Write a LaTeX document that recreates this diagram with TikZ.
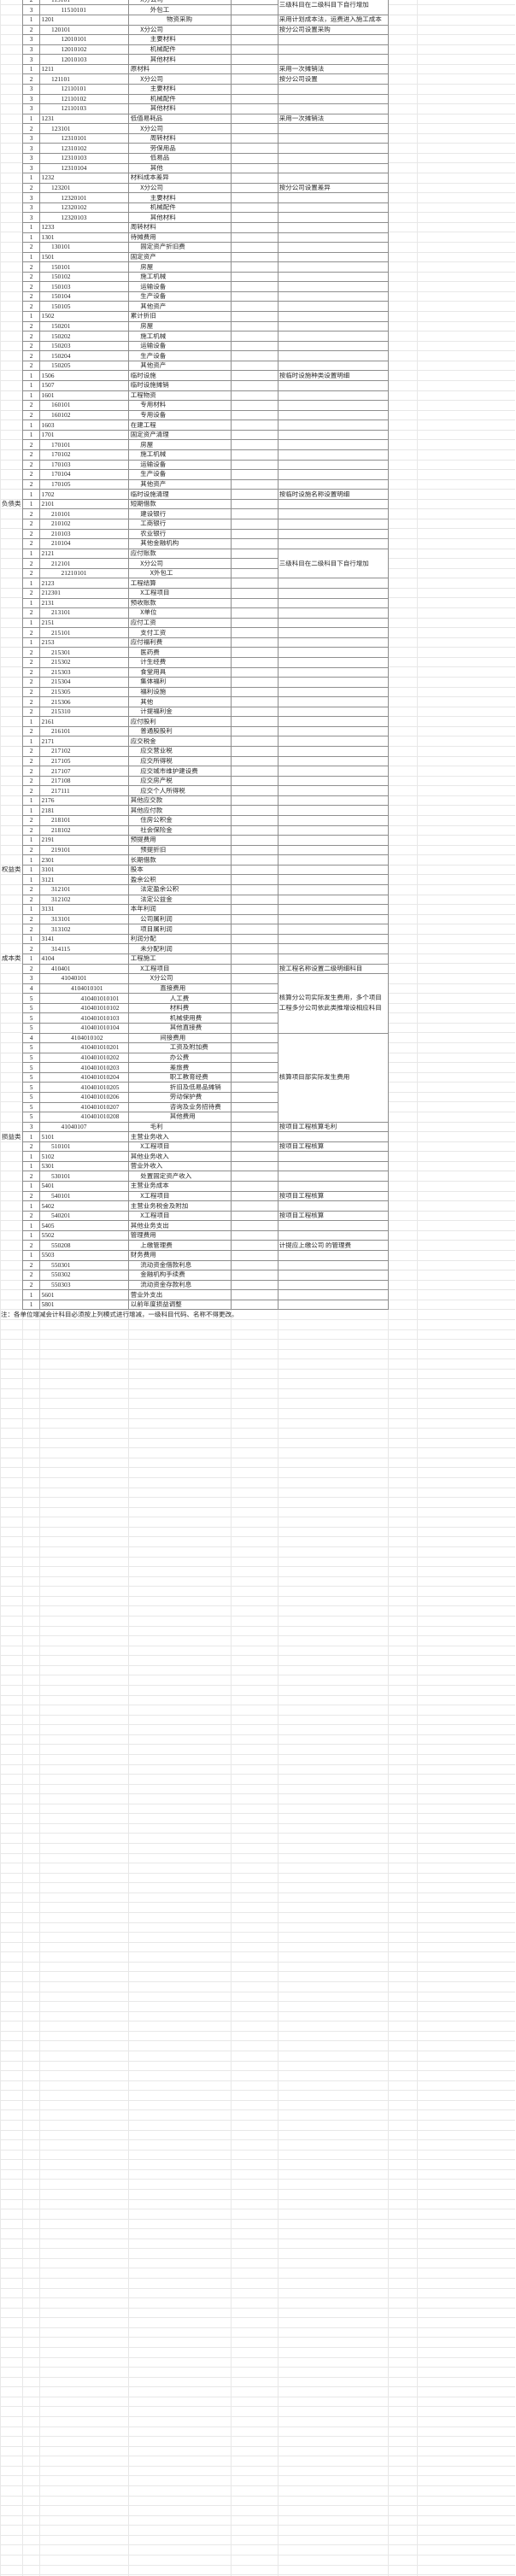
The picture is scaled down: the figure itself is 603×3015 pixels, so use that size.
\documentclass[tikz,border=0pt]{standalone}
\usepackage{fontspec}
\setmainfont{Liberation Serif}
\newfontfamily\cjk{Noto Sans CJK SC}

\definecolor{gridline}{HTML}{E8E8E8}
\definecolor{cellline}{HTML}{8E8E8E}
\definecolor{ink}{HTML}{262626}
\newcommand{\rowh}{11.568}

\begin{document}
\begin{tikzpicture}[
					x = 1pt, y = -1pt,
					every node/.style = {
						inner sep = 0pt,
						text = ink,
						font = \fontsize{7.5}{9}\selectfont,
					},
					numtext/.style = {anchor = base west},
					lvltext/.style = {anchor = base},
					cntext/.style = {anchor = base west, font = \cjk\fontsize{7.5}{9}\selectfont},
					faint/.style = {draw = gridline, line width = 0.8pt},
					cell/.style = {draw = cellline, line width = 0.7pt},
			]
				\useasboundingbox (0, 0) rectangle (603, 3015);
				\clip (0, 0) rectangle (603, 3015);

				% empty sheet grid
				\foreach \k in {0,...,132} {
					\draw[faint] (0, {(\k+0.5)*\rowh}) -- (26.7, {(\k+0.5)*\rowh});
					\draw[faint] (454.3, {(\k+0.5)*\rowh}) -- (603, {(\k+0.5)*\rowh});
				}
				\foreach \k in {133,...,260}
					\draw[faint] (0, {(\k+0.5)*\rowh}) -- (603, {(\k+0.5)*\rowh});
				\foreach \x in {0.5, 26.7, 46.7, 150.7, 270.7, 325, 454.3, 488.3}
					\draw[faint] (\x, 0) -- (\x, 3015);

				% table rules
				\foreach \k in {0,...,132}
					\draw[cell] (26.7, {(\k+0.5)*\rowh}) -- (325, {(\k+0.5)*\rowh});
				\foreach \k in {1,...,55}
					\draw[cell] (325, {(\k+0.5)*\rowh}) -- (454.3, {(\k+0.5)*\rowh});
				\foreach \k in {58,...,98}
					\draw[cell] (325, {(\k+0.5)*\rowh}) -- (454.3, {(\k+0.5)*\rowh});
				\foreach \k in {104,113,114,...,132}
					\draw[cell] (325, {(\k+0.5)*\rowh}) -- (454.3, {(\k+0.5)*\rowh});
				\foreach \x in {26.7, 46.7, 150.7, 270.7, 325, 454.3}
					\draw[cell] (\x, 0) -- (\x, {132.5*\rowh});

				% account rows: row / level / code / name
				\foreach \rw/\lv/\cd/\nm in {
						0/2/115101/X分公司, 1/3/11510101/外包工,
						3/2/120101/X分公司, 4/3/12010101/主要材料, 5/3/12010102/机械配件, 6/3/12010103/其他材料,
						7/1/1211/原材料, 8/2/121101/X分公司, 9/3/12110101/主要材料, 10/3/12110102/机械配件, 11/3/12110103/其他材料,
						12/1/1231/低值易耗品, 13/2/123101/X分公司, 14/3/12310101/周转材料, 15/3/12310102/劳保用品,
						16/3/12310103/低易品, 17/3/12310104/其他,
						18/1/1232/材料成本差异, 19/2/123201/X分公司, 20/3/12320101/主要材料, 21/3/12320102/机械配件, 22/3/12320103/其他材料,
						23/1/1233/周转材料, 24/1/1301/待摊费用, 25/2/130101/固定资产折旧费,
						26/1/1501/固定资产, 27/2/150101/房屋, 28/2/150102/施工机械, 29/2/150103/运输设备, 30/2/150104/生产设备, 31/2/150105/其他资产,
						32/1/1502/累计折旧, 33/2/150201/房屋, 34/2/150202/施工机械, 35/2/150203/运输设备, 36/2/150204/生产设备, 37/2/150205/其他资产,
						38/1/1506/临时设施, 39/1/1507/临时设施摊销, 40/1/1601/工程物资, 41/2/160101/专用材料, 42/2/160102/专用设备,
						43/1/1603/在建工程, 44/1/1701/固定资产清理, 45/2/170101/房屋, 46/2/170102/施工机械, 47/2/170103/运输设备,
						48/2/170104/生产设备, 49/2/170105/其他资产, 50/1/1702/临时设施清理,
						51/1/2101/短期借款, 52/2/210101/建设银行, 53/2/210102/工商银行, 54/2/210103/农业银行, 55/2/210104/其他金融机构,
						56/1/2121/应付账款, 57/2/212101/X分公司, 59/1/2123/工程结算,
						61/1/2131/预收账款, 62/2/213101/X单位, 63/1/2151/应付工资, 64/2/215101/支付工资,
						65/1/2153/应付福利费, 66/2/215301/医药费, 67/2/215302/计生经费, 68/2/215303/食堂用具, 69/2/215304/集体福利,
						70/2/215305/福利设施, 71/2/215306/其他, 72/2/215310/计提福利金, 73/1/2161/应付股利, 74/2/216101/普通股股利,
						75/1/2171/应交税金, 76/2/217102/应交营业税, 77/2/217105/应交所得税, 78/2/217107/应交城市维护建设费,
						79/2/217108/应交房产税, 80/2/217111/应交个人所得税, 81/1/2176/其他应交款, 82/1/2181/其他应付款,
						83/2/218101/住房公积金, 84/2/218102/社会保险金, 85/1/2191/预提费用, 86/2/219101/预提折旧, 87/1/2301/长期借款,
						88/1/3101/股本, 89/1/3121/盈余公积, 90/2/312101/法定盈余公积, 91/2/312102/法定公益金,
						92/1/3131/本年利润, 93/2/313101/公司属利润, 94/2/313102/项目属利润, 95/1/3141/利润分配, 96/2/314115/未分配利润,
						97/1/4104/工程施工, 98/2/410401/X工程项目, 99/3/41040101/X分公司, 100/4/4104010101/直接费用,
						101/5/410401010101/人工费, 102/5/410401010102/材料费, 103/5/410401010103/机械使用费, 104/5/410401010104/其他直接费,
						105/4/4104010102/间接费用, 106/5/410401010201/工资及附加费, 107/5/410401010202/办公费, 108/5/410401010203/差旅费,
						109/5/410401010204/职工教育经费, 110/5/410401010205/折旧及低易品摊销, 111/5/410401010206/劳动保护费,
						112/5/410401010207/咨询及业务招待费, 113/5/410401010208/其他费用, 114/3/41040107/毛利,
						115/1/5101/主营业务收入, 116/2/510101/X工程项目, 117/1/5102/其他业务收入, 118/1/5301/营业外收入,
						119/2/530101/处置固定资产收入, 120/1/5401/主营业务成本, 121/2/540101/X工程项目,
						122/1/5402/主营业务税金及附加, 123/2/540201/X工程项目, 124/1/5405/其他业务支出, 125/1/5502/管理费用,
						126/2/550208/上缴管理费, 127/1/5503/财务费用, 128/2/550301/流动资金借款利息, 129/2/550302/金融机构手续费,
						130/2/550303/流动资金存款利息, 131/1/5601/营业外支出, 132/1/5801/以前年度损益调整} {
					\node[lvltext] (lv\rw) at (36.7, {\rw*\rowh+2.7}) {\lv};
					\node[numtext] (cd\rw) at ({48.3+(\lv-1)*11.5}, {\rw*\rowh+2.7}) {\cd};
					\node[cntext] (nm\rw) at ({152.7+(\lv-1)*11.5}, {\rw*\rowh+2.7}) {\nm};
				}

				% rows set off from the usual indent
				\node[lvltext] (lv2) at (36.7, {2*\rowh+2.7}) {1};
				\node[numtext] (cd2) at (48.3, {2*\rowh+2.7}) {1201};
				\node[cntext] (nm2) at (195, {2*\rowh+2.7}) {物资采购};
				\node[lvltext] (lv58) at (36.7, {58*\rowh+2.7}) {2};
				\node[numtext] (cd58) at (71.3, {58*\rowh+2.7}) {21210101};
				\node[cntext] (nm58) at (175.7, {58*\rowh+2.7}) {X外包工};
				\node[lvltext] (lv60) at (36.7, {60*\rowh+2.7}) {2};
				\node[numtext] (cd60) at (48.3, {60*\rowh+2.7}) {212301};
				\node[cntext] (nm60) at (164.2, {60*\rowh+2.7}) {X工程项目};

				% account classes
				\foreach \rw/\nm in {51/负债类, 88/权益类, 97/成本类, 115/损益类}
					\node[cntext, anchor = base] (cls\rw) at (13.3, {\rw*\rowh+2.7}) {\nm};

				% remarks
				\foreach \rw/\nm in {
						0.5/三级科目在二级科目下自行增加, 2/采用计划成本法，运费进入施工成本, 3/按分公司设置采购,
						7/采用一次摊销法, 8/按分公司设置, 12/采用一次摊销法, 19/按分公司设置差异,
						38/按临时设施种类设置明细, 50/按临时设施名称设置明细, 57/三级科目在二级科目下自行增加,
						98/按工程名称设置二级明细科目, 109/核算项目部实际发生费用, 114/按项目工程核算毛利,
						116/按项目工程核算, 121/按项目工程核算, 123/按项目工程核算, 126/计提应上缴公司 的管理费}
					\node[cntext] (rm\rw) at (326.7, {\rw*\rowh+2.7}) {\nm};
				\node[cntext] (rmcoa) at (326.7, {101.5*\rowh-3.2}) {核算分公司实际发生费用，多个项目};
				\node[cntext] (rmcob) at (326.7, {101.5*\rowh+8.6}) {工程多分公司依此类推增设相应科目};

				% footnote
				\node[cntext] (foot) at (1, {133*\rowh+2.7}) {注：各单位增减会计科目必须按上列模式进行增减，一级科目代码、名称不得更改。};
			\end{tikzpicture}
\end{document}
